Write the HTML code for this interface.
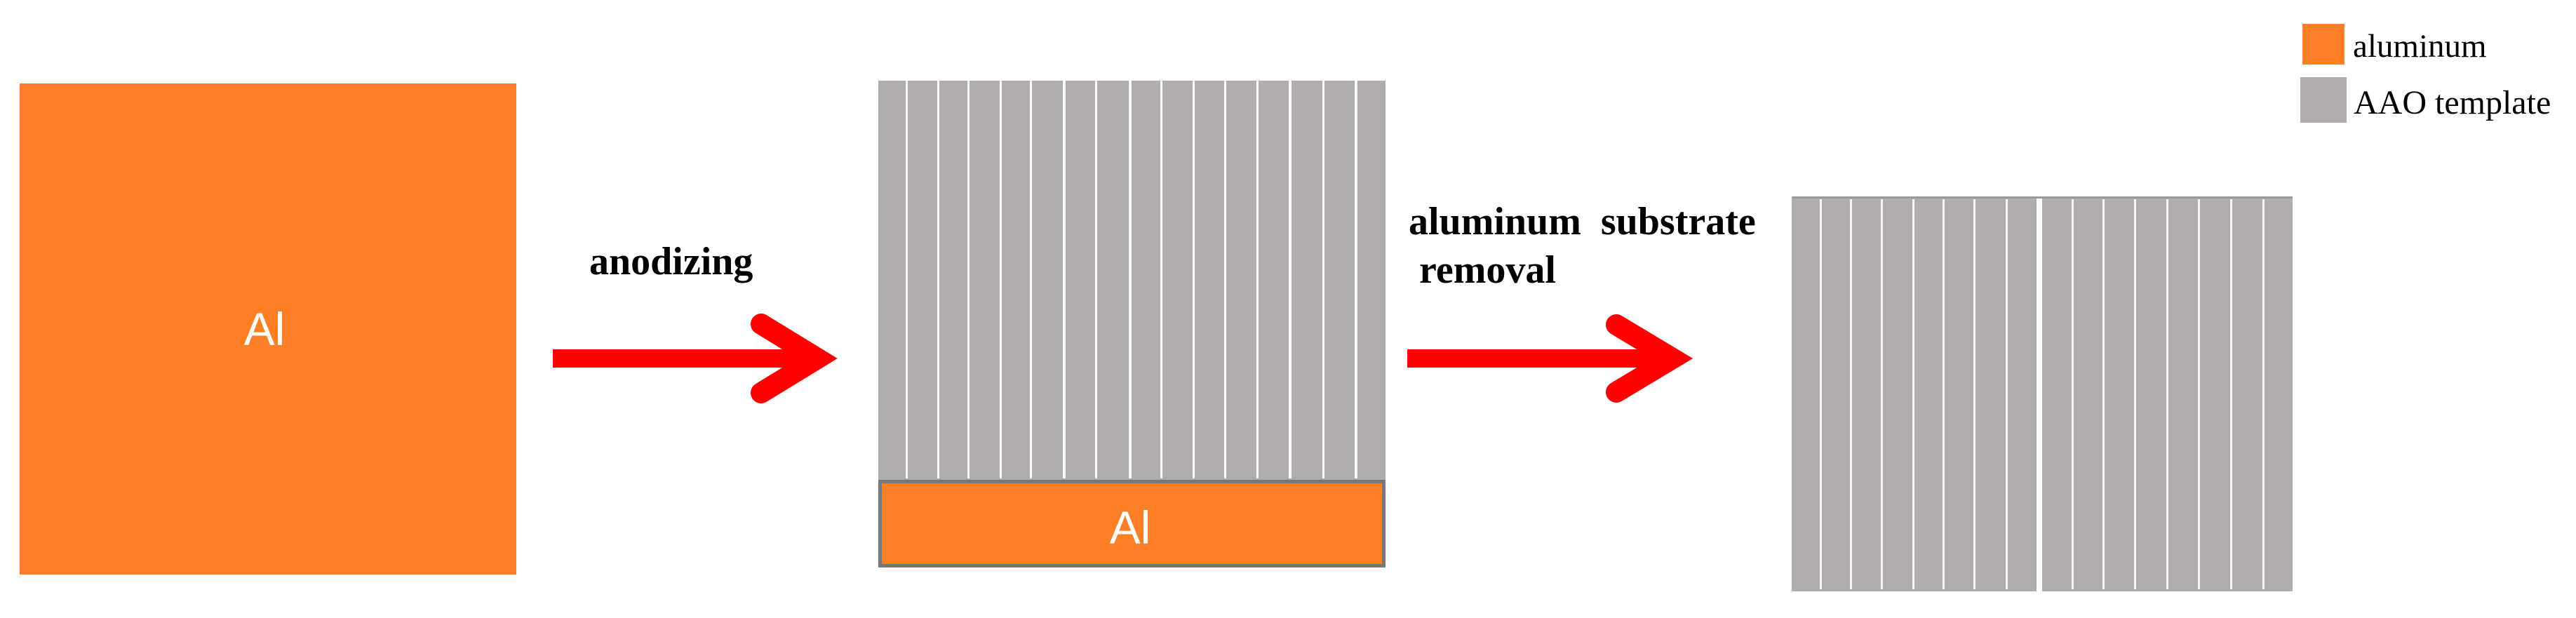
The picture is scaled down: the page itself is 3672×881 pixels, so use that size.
<!DOCTYPE html>
<html><head><meta charset="utf-8"><style>
html,body{margin:0;padding:0;background:#fff;}
svg{display:block}
</style></head><body>
<svg width="3672" height="881" viewBox="0 0 3672 881" xmlns="http://www.w3.org/2000/svg">
<!-- left Al block -->
<rect x="28" y="119" width="708" height="700" fill="#fe7f25"/>
<text x="377" y="492" font-family="Liberation Sans, sans-serif" font-size="66" fill="#fff" text-anchor="middle">Al</text>

<!-- arrow 1 -->
<rect x="788" y="498" width="372" height="26" fill="#ff0000"/>
<polyline points="1085,462 1165,511 1085,560" fill="none" stroke="#ff0000" stroke-width="30" stroke-linecap="round" stroke-linejoin="miter"/>
<text x="840" y="391" font-family="Liberation Serif, serif" font-weight="bold" font-size="56" fill="#000">anodizing</text>

<!-- middle block -->
<rect x="1252" y="115" width="723" height="572" fill="#b0adac"/>
<g fill="#fbfbfb">
<rect x="1291" y="115" width="3" height="567"/>
<rect x="1336" y="115" width="3" height="567"/>
<rect x="1379" y="115" width="3" height="567"/>
<rect x="1425" y="115" width="3" height="567"/>
<rect x="1468" y="115" width="3" height="567"/>
<rect x="1515" y="115" width="4" height="567"/>
<rect x="1561" y="115" width="3" height="567"/>
<rect x="1609" y="115" width="4" height="567"/>
<rect x="1654" y="115" width="3" height="567"/>
<rect x="1700" y="115" width="3" height="567"/>
<rect x="1745" y="115" width="3" height="567"/>
<rect x="1791" y="115" width="3" height="567"/>
<rect x="1837" y="115" width="4" height="567"/>
<rect x="1885" y="115" width="3" height="567"/>
<rect x="1931" y="115" width="4" height="567"/>
</g>
<rect x="1254.5" y="686.5" width="718" height="120" fill="#fe7f25" stroke="#787878" stroke-width="5"/>
<text x="1611" y="775" font-family="Liberation Sans, sans-serif" font-size="66" fill="#fff" text-anchor="middle">Al</text>

<!-- arrow 2 -->
<rect x="2006" y="498" width="372" height="26" fill="#ff0000"/>
<polyline points="2304,463 2384,511 2304,559" fill="none" stroke="#ff0000" stroke-width="30" stroke-linecap="round" stroke-linejoin="miter"/>
<text x="2008" y="334" font-family="Liberation Serif, serif" font-weight="bold" font-size="56" fill="#000" xml:space="preserve">aluminum  substrate</text>
<text x="2023" y="403" font-family="Liberation Serif, serif" font-weight="bold" font-size="56" fill="#000">removal</text>

<!-- right block -->
<rect x="2554" y="280" width="349" height="563" fill="#b0adac"/>
<rect x="2911" y="280" width="357" height="563" fill="#b0adac"/>
<rect x="2554" y="280" width="714" height="3" fill="#9c9998"/>
<g fill="#f6f6f6">
<rect x="2594" y="284" width="3" height="556"/>
<rect x="2637" y="284" width="3" height="556"/>
<rect x="2681" y="284" width="3" height="556"/>
<rect x="2726" y="284" width="3" height="556"/>
<rect x="2769" y="284" width="3" height="556"/>
<rect x="2813" y="284" width="3" height="556"/>
<rect x="2859" y="284" width="3" height="556"/>
<rect x="2953" y="284" width="3" height="556"/>
<rect x="2997" y="284" width="3" height="556"/>
<rect x="3042" y="284" width="3" height="556"/>
<rect x="3088" y="284" width="3" height="556"/>
<rect x="3133" y="284" width="3" height="556"/>
<rect x="3179" y="284" width="3" height="556"/>
<rect x="3225" y="284" width="3" height="556"/>
</g>

<!-- legend -->
<rect x="3282" y="34" width="60" height="58" fill="#fe7f25"/>
<rect x="3279" y="110" width="66" height="65" fill="#b0adac"/>
<text x="3354" y="81" font-family="Liberation Serif, serif" font-size="47" fill="#000">aluminum</text>
<text x="3355" y="162" font-family="Liberation Serif, serif" font-size="48" fill="#000">AAO template</text>
</svg>
</body></html>
